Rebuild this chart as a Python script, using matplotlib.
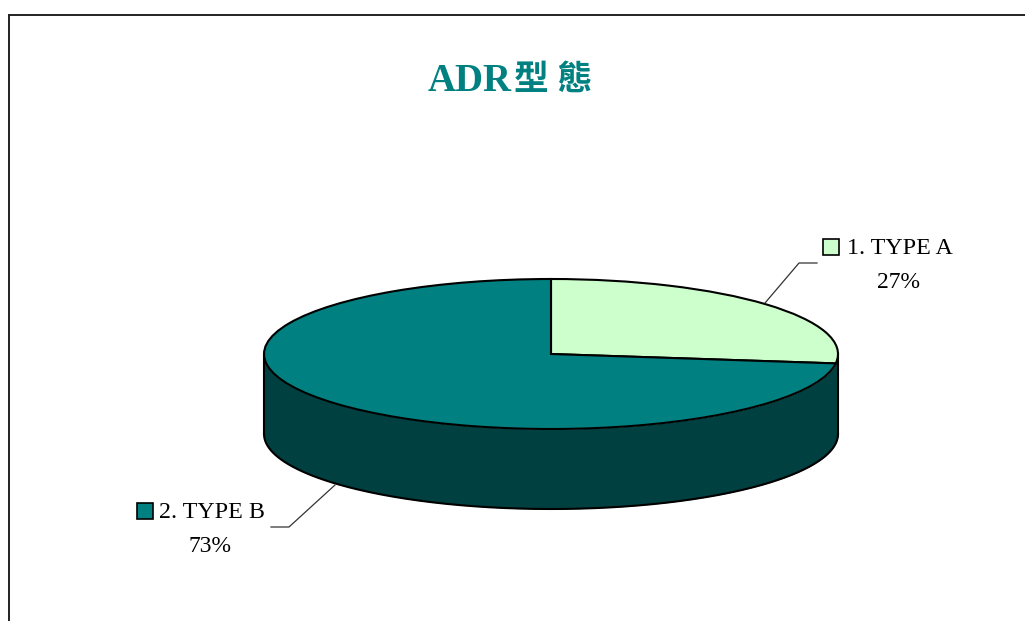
# ADR pie chart, fake 3D look

import numpy as np
import matplotlib
matplotlib.use("Agg")
import matplotlib.pyplot as plt
from matplotlib.lines import Line2D
from matplotlib.patches import Rectangle

# Data --------------------------------------------------------------------

categories = ["1. TYPE A", "2. TYPE B"]
shares = [27, 73]
title_latin = "ADR"
title_cjk = "型 態"

# Parameters --------------------------------------------------------------

W, H = 1025, 621
cx, cy = 551, 354    # pie centre in pixels
rx, ry = 287, 75     # radii of the top ellipse
depth = 80           # height of the side wall

teal = "#008080"
mint = "#CCFFCC"
dark = "#004040"
serif = ["Liberation Serif", "Noto Sans CJK TC"]


def fx(x):
    return x / W


def fy(y):
    return 1 - y / H


# Pie ---------------------------------------------------------------------

fig = plt.figure(figsize=(W / 100, H / 100), dpi=100, facecolor="white")
ax = fig.add_axes([0, 0, 1, 1])

# side wall first, the pie goes on top of it
t = np.linspace(np.pi, 2 * np.pi, 300)
d = depth / ry
ax.fill_between(np.cos(t), np.sin(t), np.sin(t) - d, color=dark, lw=0, zorder=1)
ax.plot(np.cos(t), np.sin(t) - d, color="black", lw=1.5, zorder=2)
ax.plot([-1, -1], [0, -d], color="black", lw=1.5, zorder=2)
ax.plot([1, 1], [0, -d], color="black", lw=1.5, zorder=2)

wedges, _ = ax.pie(shares, colors=[mint, teal], startangle=90, counterclock=False,
                   radius=1, wedgeprops={"edgecolor": "black", "linewidth": 1.5, "zorder": 3})

# stretch the circle into an ellipse
ax.set_aspect("auto")
ax.set_xlim(-cx / rx, (W - cx) / rx)
ax.set_ylim(-(H - cy) / ry, cy / ry)
ax.axis("off")

# Frame -------------------------------------------------------------------

fig.add_artist(Line2D([fx(9), fx(9)], [fy(15), 0], color="#222222", lw=1.4))
fig.add_artist(Line2D([fx(9), 1], [fy(15), fy(15)], color="#222222", lw=1.4))

# Title -------------------------------------------------------------------

fig.text(fx(428), fy(91), title_latin, color=teal, fontsize=28, fontweight="bold",
         family=serif, ha="left", va="baseline")
fig.text(fx(514), fy(90), title_cjk, color=teal, fontsize=25, fontweight="bold",
         family=serif, ha="left", va="baseline")

# Labels ------------------------------------------------------------------

fig.add_artist(Rectangle((fx(823), fy(255)), 16 / W, 16 / H, transform=fig.transFigure,
                         facecolor=mint, edgecolor="black", lw=1.2))
fig.text(fx(847), fy(249), categories[0], fontsize=17.3, family=serif, ha="left", va="center")
fig.text(fx(898), fy(282), str(shares[0]) + "%", fontsize=17, family=serif, ha="center", va="center")
fig.add_artist(Line2D([fx(817), fx(799), fx(765)], [fy(263), fy(263), fy(303)], color="#333333", lw=0.9))

fig.add_artist(Rectangle((fx(137), fy(519)), 16 / W, 16 / H, transform=fig.transFigure,
                         facecolor=teal, edgecolor="black", lw=1.2))
fig.text(fx(159), fy(513), categories[1], fontsize=17.3, family=serif, ha="left", va="center")
fig.text(fx(210), fy(547), str(shares[1]) + "%", fontsize=17, family=serif, ha="center", va="center")
fig.add_artist(Line2D([fx(271), fx(289), fx(335)], [fy(527), fy(527), fy(485)], color="#333333", lw=0.9))

plt.savefig("out.png", dpi=100)
